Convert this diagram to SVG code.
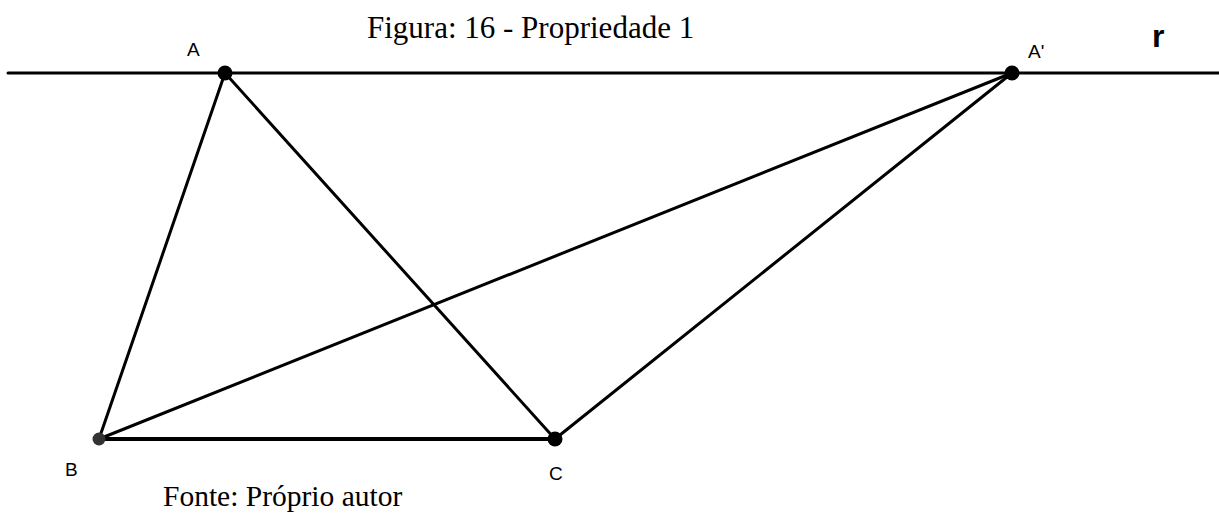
<svg xmlns="http://www.w3.org/2000/svg" width="1219" height="514" viewBox="0 0 1219 514">
<style>
.ln{stroke:#000;stroke-width:3;fill:none;stroke-linecap:round}
.thick{stroke-width:4}
.pt{fill:#000}
.lbl{font-family:"Liberation Sans",Arial,sans-serif;font-size:19px;fill:#000}
.cap{font-family:"Liberation Serif","Times New Roman",serif;fill:#000}
</style>
<rect width="1219" height="514" fill="#fff"/>
<text class="cap" x="367" y="38" font-size="31">Figura: 16 - Propriedade 1</text>
<g id="connectors">
<line class="ln" x1="8" y1="73" x2="1219" y2="73"/>
<line class="ln" x1="225" y1="73" x2="99" y2="439"/>
<line class="ln" x1="225" y1="73" x2="555" y2="439"/>
<line class="ln" x1="1012" y1="73" x2="99" y2="439"/>
<line class="ln" x1="1012" y1="73" x2="555" y2="439"/>
<line class="ln thick" x1="99" y1="439" x2="555" y2="439"/>
</g>
<g id="A"><circle class="pt" cx="225" cy="73" r="7.5"/><text class="lbl" x="187" y="56">A</text></g>
<g id="A1"><circle class="pt" cx="1012" cy="73" r="7.5"/><text class="lbl" x="1028" y="58">A'</text></g>
<g id="B"><circle cx="99" cy="439" r="6.5" fill="#333"/><text class="lbl" x="65" y="476">B</text></g>
<g id="C"><circle class="pt" cx="555" cy="439" r="7.5"/><text class="lbl" x="549" y="480">C</text></g>
<g id="r"><text x="1152" y="47" font-family="Liberation Sans,Arial,sans-serif" font-weight="bold" font-size="32">r</text></g>
<text class="cap" x="163" y="506" font-size="29.5">Fonte: Próprio autor</text>
</svg>
